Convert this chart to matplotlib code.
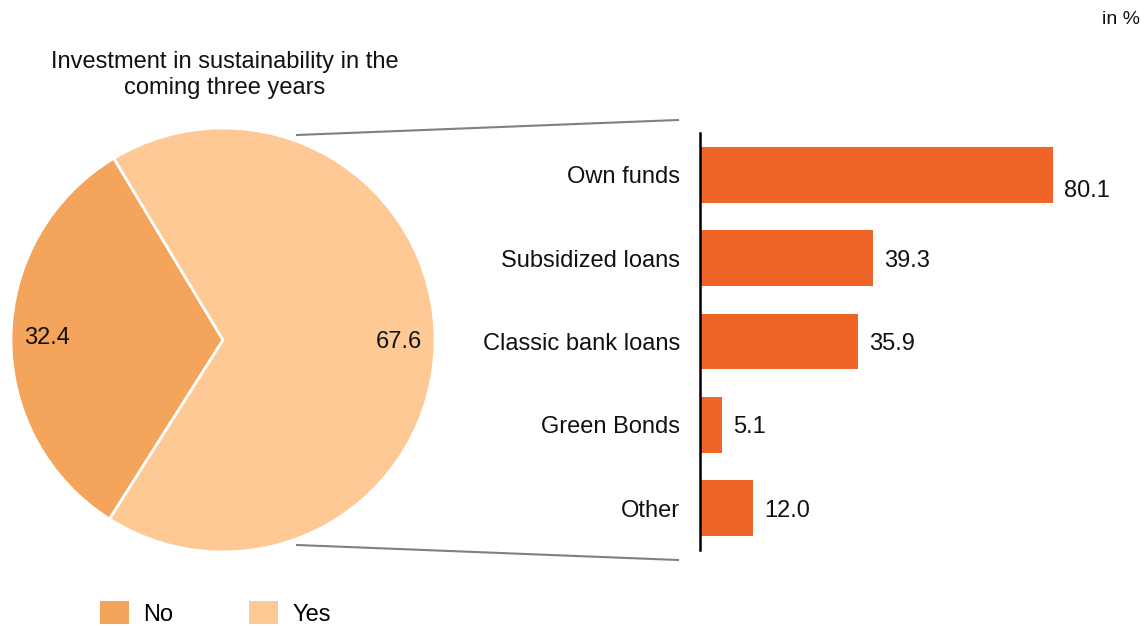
import matplotlib
matplotlib.use("Agg")
import matplotlib.pyplot as plt
from matplotlib.lines import Line2D
from matplotlib.patches import Patch

plt.rcParams['font.family'] = ['Liberation Sans', 'DejaVu Sans']

# pie data
pie_labels = ['No', 'Yes']
pie_values = [32.4, 67.6]
pie_colors = ['#F4A45B', '#FEC995']
pie_title = 'Investment in sustainability in the\ncoming three years'

# bar data
bar_categories = ['Own funds', 'Subsidized loans', 'Classic bank loans', 'Green Bonds', 'Other']
bar_values = [80.1, 39.3, 35.9, 5.1, 12.0]
bar_color = '#EF6527'

FS = 17
W, H = 1148, 626
fig = plt.figure(figsize=(W / 100, H / 100), dpi=100)

# pie on the left
ax_pie = fig.add_axes([11 / W, (H - 552) / H, 424 / W, 424 / H])
wedges, _, autotexts = ax_pie.pie(
    pie_values, colors=pie_colors, startangle=121, counterclock=True,
    autopct=lambda p: f'{p:.1f}', pctdistance=0.83,
    wedgeprops=dict(edgecolor='white', linewidth=2),
    textprops=dict(fontsize=FS, color='#111111'))
ax_pie.set_aspect('equal')
ax_pie.set_xlim(-1.0, 1.0)
ax_pie.set_ylim(-1.0, 1.0)

fig.text(225 / W, 1 - 75 / H, pie_title, ha='center', va='center',
         fontsize=FS, color='#111111', linespacing=1.2)

# bar chart on the right
ax_bar = fig.add_axes([700 / W, (H - 550) / H, 441 / W, 417 / H])
ypos = list(range(len(bar_categories)))
ax_bar.barh(ypos, bar_values, height=0.67, color=bar_color)
ax_bar.set_ylim(len(bar_categories) - 0.5, -0.5)
ax_bar.set_xlim(0, 100)
ax_bar.set_yticks(ypos)
ax_bar.set_yticklabels(bar_categories, fontsize=FS, color='#111111')
ax_bar.tick_params(axis='y', length=0, pad=14.5)
ax_bar.set_xticks([])
for s in ['top', 'right', 'bottom']:
    ax_bar.spines[s].set_visible(False)
ax_bar.spines['left'].set_linewidth(1.8)
ax_bar.spines['left'].set_color('black')
for i, (y, v) in enumerate(zip(ypos, bar_values)):
    dy = -10 if i == 0 else 0
    ax_bar.annotate(f'{v:.1f}', (v, y), xytext=(8, dy), textcoords='offset points',
                    ha='left', va='center_baseline', fontsize=FS, color='#111111')

# connector lines between pie and bars
fig.add_artist(Line2D([297 / W, 678 / W], [1 - 135 / H, 1 - 120 / H],
                      transform=fig.transFigure, color='#808080', lw=1.5))
fig.add_artist(Line2D([297 / W, 678 / W], [1 - 545 / H, 1 - 560 / H],
                      transform=fig.transFigure, color='#808080', lw=1.5))

fig.text(1140 / W, 1 - 20 / H, 'in %', ha='right', va='center',
         fontsize=14, color='#111111')

# legend
handles = [Patch(facecolor=c, label=l) for c, l in zip(pie_colors, pie_labels)]
fig.legend(handles=handles, loc='lower left', bbox_to_anchor=(79 / W, -21 / H),
           ncol=2, frameon=False, fontsize=FS, handlelength=1.23,
           handleheight=1.1, handletextpad=0.6, columnspacing=3.2)

fig.savefig('out.png', dpi=100)
